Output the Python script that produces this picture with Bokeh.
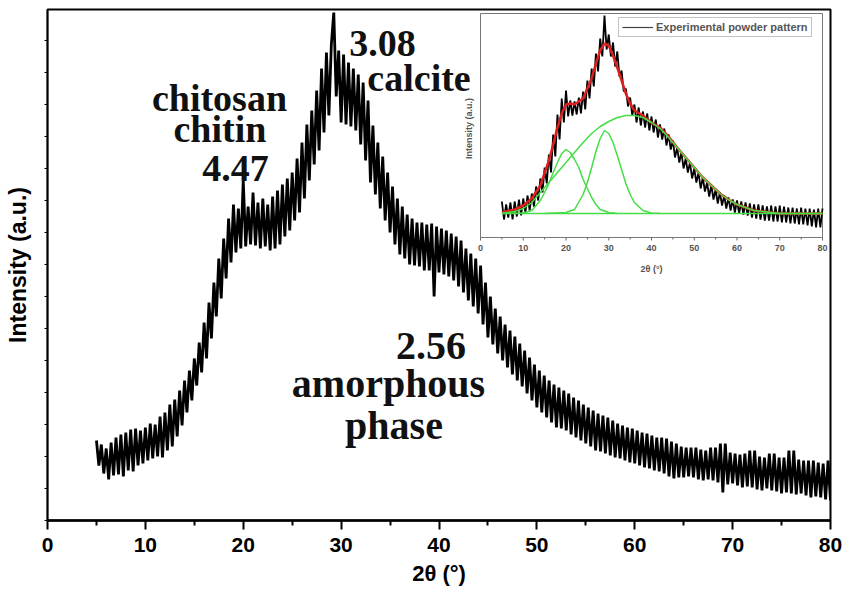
import numpy as np
from bokeh.plotting import figure
from bokeh.models import (Range1d, Label, FixedTicker, Legend, LegendItem, ColumnDataSource)
from bokeh.core.properties import value
from bokeh.embed import file_html
from bokeh.resources import INLINE

# ---------------- main XRD pattern (2theta from 5 deg, step 0.25 deg) ----------------
main_start = 5.0
main_step = 0.25
main_intensity = [
    80, 55, 76, 47,   72, 41, 78, 45,   83, 46, 86, 44,   88, 50, 91, 49,
    92, 55, 90, 57,   93, 60, 97, 62,   96, 64, 104, 63,  108, 70, 116, 74,
    121, 84, 130, 95, 140, 108, 150, 120, 162, 135, 178, 148, 198, 162, 218, 182,
    238, 204, 262, 222, 282, 242, 302, 258, 316, 268, 312, 272, 340, 274, 314, 276,
    328, 275, 318, 272, 322, 274, 316, 270, 324, 272, 330, 276, 336, 284, 342, 290,
    348, 300, 362, 308, 378, 322, 396, 340, 410, 356, 430, 370, 452, 388, 468, 405,
    476, 508, 424, 470, 398, 466, 396, 458, 394, 452, 390, 446, 376, 438, 360, 420,
    338, 395, 326, 378, 312, 364, 300, 348, 288, 334, 276, 322, 266, 314, 262, 306,
    256, 302, 255, 298, 254, 298, 250, 296, 250, 297, 224, 294, 248, 292, 246, 290,
    244, 287, 240, 284, 234, 280, 228, 272, 220, 267, 214, 262, 207, 255, 196, 238,
    183, 224, 176, 212, 167, 204, 160, 196, 153, 190, 146, 184, 140, 177, 134, 170,
    127, 163, 120, 156, 113, 150, 108, 145, 103, 140, 98, 136, 93, 133, 92, 130,
    90, 127, 86, 123,  83, 120, 80, 116,  77, 113, 74, 110,  70, 107, 69, 105,
    67, 103, 65, 100,  63, 97, 62, 95,    60, 93, 58, 92,    57, 90, 55, 88,
    53, 87, 52, 85,    50, 83, 49, 83,    47, 82, 44, 79,    42, 77, 43, 74,
    43, 73, 44, 73,    43, 73, 41, 71,    40, 70, 41, 73,    40, 73, 38, 77,
    28, 77, 36, 68,    37, 67, 35, 66,    33, 67, 34, 70,    33, 70, 31, 64,
    30, 63, 32, 67,    30, 67, 29, 63,    27, 63, 28, 70,    27, 70, 26, 61,
    27, 60, 25, 60,    23, 60, 24, 58,    23, 57, 21, 60,
    20,
]
main_two_theta = [main_start + main_step * i for i in range(len(main_intensity))]

# ---------------- inset: experimental pattern (step 0.5 deg) ----------------
inset_start = 5.0
inset_step = 0.5
inset_intensity = [
    36, 18, 33, 20, 35, 18, 36, 21, 38, 22, 39, 25, 42, 27, 44, 31, 51, 37, 59, 45,
    70, 54, 83, 65, 103, 81, 123, 98, 139, 115, 147, 121, 137, 122, 136, 123, 140, 124, 146, 128,
    157, 139, 169, 151, 184, 166, 199, 181, 222, 188, 203, 181, 195, 171, 186, 161, 167, 146, 149, 131,
    140, 122, 133, 115, 130, 112, 126, 110, 124, 107, 121, 105, 118, 100, 113, 98, 109, 92, 103, 88,
    97, 80, 90, 75, 85, 69, 79, 65, 75, 59, 69, 55, 65, 49, 60, 46, 55, 41, 52, 38,
    48, 34, 45, 32, 42, 29, 40, 27, 38, 25, 37, 24, 36, 23, 35, 22, 34, 20, 33, 19,
    33, 18, 32, 17, 31, 17, 32, 16, 31, 16, 32, 15, 31, 15, 30, 14, 30, 14, 29, 13,
    30, 13, 29, 12, 29, 11, 28, 10, 29, 10,
    29,
]
inset_two_theta = [inset_start + inset_step * i for i in range(len(inset_intensity))]

# fitted envelope (red)
fit_two_theta = [5, 8, 10, 12, 14, 16, 17, 18, 19, 20, 21, 22, 24, 26, 27, 28, 29, 30, 31, 32,
                 34, 35, 36, 38, 40, 42, 44, 46, 48, 50, 52, 54, 56, 58, 60, 62, 64, 66, 68, 70, 75, 80]
fit_total = [25, 28, 32, 39, 52, 77, 93, 110, 124, 133, 134, 133, 139, 159, 174, 187, 194, 192, 182, 170,
             144, 134, 127, 122, 115, 110, 101, 90, 80, 70, 60, 52, 44, 38, 33, 30, 27, 26, 25, 24, 24, 24]

# fitted components (green)
comp1_two_theta = [5, 10, 12, 14, 15, 16, 17, 18, 19, 20, 21, 22, 23, 24, 25, 26, 27, 28, 30, 32]
comp1_value = [24, 24.5, 27, 37, 45, 54, 65, 75, 84, 88, 85, 78, 70, 58, 49, 40, 33, 28, 25, 24]

comp2_two_theta = [15, 20, 22, 24, 25, 26, 27, 28, 29, 30, 31, 32, 33, 34, 35, 36, 38, 40, 42]
comp2_value = [24, 25, 28, 43, 55, 70, 86, 99, 107, 104, 95, 82, 68, 54, 43, 35, 27, 24.5, 24]

comp3_two_theta = [5, 8, 10, 12, 14, 16, 18, 20, 22, 24, 26, 28, 30, 32, 34, 36, 38, 40, 42, 44,
                   46, 48, 50, 52, 54, 56, 58, 60, 62, 64, 66, 68, 70, 80]
comp3_value = [24, 26, 29, 35, 45, 55, 65, 75, 85, 95, 104, 111, 116, 120, 122, 122, 120, 115, 109, 100,
               90, 80, 70, 60, 52, 44, 38, 33, 30, 27, 26, 25, 24, 24]

baseline_two_theta = [5, 80]
baseline_value = [24, 24]

x_major_ticks = [0, 10, 20, 30, 40, 50, 60, 70, 80]
x_minor_ticks = [5, 15, 25, 35, 45, 55, 65, 75]
x_tick_labels = ["0", "10", "20", "30", "40", "50", "60", "70", "80"]

# ---------------- layout constants (pixels) ----------------
FIG_W, FIG_H = 843, 590
F_LEFT, F_RIGHT, F_TOP, F_BOTTOM = 47, 830, 9, 520          # main frame edges
I_LEFT, I_RIGHT, I_TOP, I_BOTTOM = 480, 822, 13, 237        # inset frame edges
I_XMAX, I_YMAX = 80.0, 224.0

sx = (I_RIGHT - I_LEFT) / I_XMAX
sy = (I_BOTTOM - I_TOP) / I_YMAX
ix_range = Range1d(-(I_LEFT - F_LEFT) / sx, I_XMAX + (F_RIGHT - I_RIGHT) / sx)
iy_range = Range1d(-(F_BOTTOM - I_BOTTOM) / sy, I_YMAX + (I_TOP - F_TOP) / sy)

# ---------------- main figure ----------------
p = figure(width=FIG_W, height=FIG_H, x_range=Range1d(0, 80), y_range=Range1d(0, F_BOTTOM - F_TOP),
           output_backend="svg", toolbar_location=None,
           min_border_left=F_LEFT, min_border_right=FIG_W - F_RIGHT,
           min_border_top=F_TOP, min_border_bottom=FIG_H - F_BOTTOM)
p.extra_x_ranges = {"ix": ix_range}
p.extra_y_ranges = {"iy": iy_range}
p.background_fill_color = "white"
p.border_fill_color = "white"
p.outline_line_color = "black"
p.outline_line_width = 2
p.grid.visible = False

p.line(main_two_theta, main_intensity, line_color="black", line_width=2.8)

xa = p.xaxis[0]
xa.ticker = FixedTicker(ticks=x_major_ticks, minor_ticks=x_minor_ticks)
xa.axis_line_width = 2.5
xa.major_tick_line_width = 2
xa.minor_tick_line_width = 2
xa.major_tick_out = 9
xa.major_tick_in = 0
xa.minor_tick_out = 5
xa.minor_tick_in = 0
xa.major_label_text_font = "Liberation Sans"
xa.major_label_text_font_style = "bold"
xa.major_label_text_font_size = "21px"
xa.major_label_text_color = "black"
xa.major_label_standoff = 8
xa.axis_label = "2θ (°)"
xa.axis_label_text_font = "Liberation Sans"
xa.axis_label_text_font_style = "bold"
xa.axis_label_text_font_size = "22px"
xa.axis_label_text_color = "black"
xa.axis_label_standoff = 6

ya = p.yaxis[0]
ya.ticker = FixedTicker(ticks=[], minor_ticks=list(range(0, 500, 32)))
ya.axis_line_width = 1.5
ya.minor_tick_out = 3
ya.minor_tick_in = 0
ya.minor_tick_line_color = "black"
ya.minor_tick_line_width = 1
ya.major_label_standoff = 0
ya.axis_label = "Intensity (a.u.)"
ya.axis_label_text_font = "Liberation Sans"
ya.axis_label_text_font_style = "bold"
ya.axis_label_text_font_size = "23px"
ya.axis_label_text_color = "black"
ya.axis_label_standoff = 14

def note(x, y, text, size):
    p.add_layout(Label(x=x, y=y, text=text, text_font="Liberation Serif",
                       text_font_style="bold", text_font_size=size, text_color="#111111",
                       text_align="center", text_baseline="alphabetic"))

note(34.23, 477, "3.08", "38px")
note(37.96, 443, "calcite", "38px")
note(17.57, 423, "chitosan", "38px")
note(17.62, 392, "chitin", "38px")
note(19.21, 352, "4.47", "38px")
note(39.18, 175, "2.56", "40px")
note(34.84, 137, "amorphous", "40px")
note(35.40, 95, "phase", "40px")

# ---------------- inset (drawn in the same figure on its own ranges) ----------------
IN = dict(x_range_name="ix", y_range_name="iy")
GREY = "#777777"
p.quad(left=[0], right=[I_XMAX], bottom=[0], top=[I_YMAX], fill_color="white",
       line_color=GREY, line_width=1, **IN)

p.line(inset_two_theta, inset_intensity, line_color="black", line_width=1.8, **IN)
p.line(fit_two_theta, fit_total, line_color="#dd1f1f", line_width=2.5, **IN)
for cx, cy in [(baseline_two_theta, baseline_value), (comp1_two_theta, comp1_value),
               (comp2_two_theta, comp2_value), (comp3_two_theta, comp3_value)]:
    p.line(cx, cy, line_color="#45dd45", line_width=1.5, **IN)

# legend swatch: the first experimental point only (invisible in the plot, styled for the legend)
legend_swatch = p.line(inset_two_theta[:1], inset_intensity[:1], line_color="#444444",
                       line_width=1.2, **IN)

# inset x axis ticks and labels
p.segment(x0=x_major_ticks, y0=[0] * len(x_major_ticks), x1=x_major_ticks,
          y1=[-3 / sy] * len(x_major_ticks), line_color="#666666", line_width=1, **IN)
p.segment(x0=x_minor_ticks, y0=[0] * len(x_minor_ticks), x1=x_minor_ticks,
          y1=[-2 / sy] * len(x_minor_ticks), line_color="#666666", line_width=1, **IN)
tick_src = ColumnDataSource(dict(x=x_major_ticks, y=[-7 / sy] * len(x_major_ticks), t=x_tick_labels))
p.text(x="x", y="y", text="t", source=tick_src, text_font=value("Liberation Sans"),
       text_font_style="bold", text_font_size="9px", text_color="#555555",
       text_align="center", text_baseline="top", **IN)
p.add_layout(Label(x=I_XMAX / 2, y=-31 / sy, text="2θ (°)", text_font="Liberation Sans",
                   text_font_style="bold", text_font_size="9px", text_color="#555555",
                   text_align="center", text_baseline="middle", **IN))
p.add_layout(Label(x=-12 / sx, y=(I_BOTTOM - 128) / sy, text="Intensity (a.u.)", angle=np.pi / 2,
                   text_font="Liberation Sans", text_font_style="bold", text_font_size="9px",
                   text_color="#555555", text_align="center", text_baseline="middle", **IN))

legend = Legend(items=[LegendItem(label="Experimental powder pattern", renderers=[legend_swatch])],
                location=(618 - F_LEFT, F_BOTTOM - 37))
legend.padding = 3
legend.margin = 0
legend.spacing = 0
legend.label_text_font = "Liberation Sans"
legend.label_text_font_style = "bold"
legend.label_text_font_size = "11px"
legend.label_text_color = "#555555"
legend.label_standoff = 3
legend.glyph_width = 31
legend.glyph_height = 12
legend.label_height = 12
legend.border_line_color = "#888888"
legend.border_line_width = 1
legend.background_fill_color = "white"
p.add_layout(legend)

open("out.html", "w").write(file_html(p, INLINE))
